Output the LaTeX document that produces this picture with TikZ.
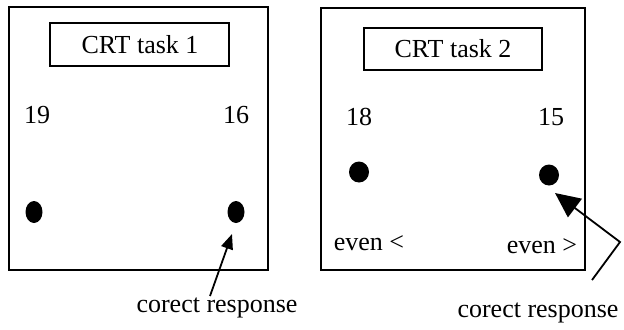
\documentclass[tikz,border=0pt]{standalone}
\usepackage{fontspec}
\setmainfont{Liberation Serif}
\usetikzlibrary{arrows.meta,shapes.geometric}
\tikzset{
  panel/.style={line width=1pt},
  titlebox/.style={line width=0.8pt},
  lbl/.style={anchor=base,inner sep=0pt,font=\fontsize{13}{15}\selectfont},
  dot/.style={ellipse,fill,inner sep=0pt,minimum width=8.5pt,minimum height=11pt},
  rdot/.style={dot,minimum width=10pt,minimum height=10.5pt},
  pointer/.style={line width=0.9pt,-{Triangle[length=7.5pt,width=6pt]}},
  bigpointer/.style={line width=0.9pt,-{Triangle[length=12.5pt,width=11.5pt]}}
}
\begin{document}
\begin{tikzpicture}[x=0.5pt,y=-0.5pt]
\useasboundingbox (0,0) rectangle (624,329);
%=======task 1=============
\draw[panel] (9,7) rectangle (268,270);
\draw[titlebox] (50,23) rectangle (229,66);
\node[lbl] (title1) at (140,53) {CRT task 1};
\node[lbl] (num19) at (37,123) {19};
\node[lbl] (num16) at (236,123) {16};
\node[dot] (dotA) at (34,212) {};
\node[dot] (dotB) at (236,212) {};
\node[lbl] (resp1) at (217,312) {corect response};
\coordinate (tailA) at (210,296);
\coordinate (tipA) at (232,234);
\draw[pointer] (tailA)--(tipA);
%=======task 2=============
\draw[panel] (321,8) rectangle (585,270);
\draw[titlebox] (364,28) rectangle (542,70);
\node[lbl] (title2) at (453,57) {CRT task 2};
\node[lbl] (num18) at (359,125) {18};
\node[lbl] (num15) at (551,125) {15};
\node[rdot] (dotC) at (359,172) {};
\node[rdot] (dotD) at (549,175) {};
\node[lbl] (evenL) at (369,250) {even <};
\node[lbl] (evenG) at (542,253) {even >};
\node[lbl] (resp2) at (538,317) {corect response};
\coordinate (tailB) at (592,280);
\coordinate (bendB) at (620,242);
\coordinate (tipB) at (555,193);
\draw[bigpointer] (tailB)--(bendB)--(tipB);
\end{tikzpicture}
\end{document}
